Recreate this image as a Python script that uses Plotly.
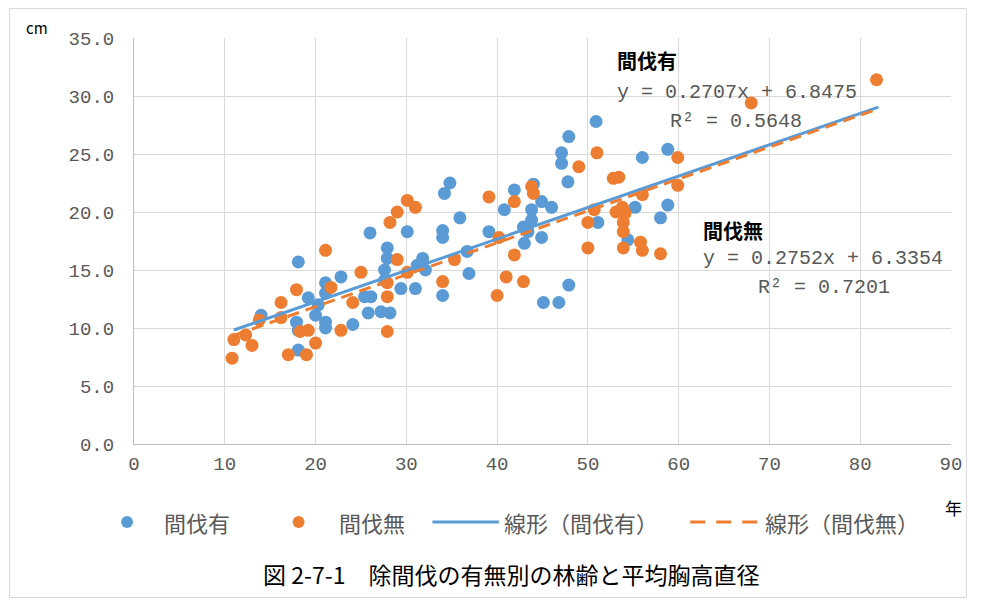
import plotly.graph_objects as go

# 間伐有 (thinned)
age_thinned = [18.1, 14.0, 17.9, 18.1, 18.1, 19.2, 20.3, 21.1, 21.1, 20.0, 21.1, 21.1, 22.8, 24.1,
               26.0, 26.1, 25.4, 25.8, 27.2, 28.2, 27.9, 27.9, 27.6, 27.6, 29.4, 31.0, 30.1, 31.8,
               31.2, 32.1, 34.0, 34.0, 34.0, 34.2, 34.8, 35.9, 36.7, 36.9, 39.1, 40.8, 41.9, 42.9,
               43.4, 43.0, 43.8, 43.8, 44.9, 46.0, 44.9, 45.1, 46.8, 47.1, 47.1, 47.8, 47.9, 47.9,
               50.9, 51.1, 56.0, 58.8, 55.2, 58.8, 58.0, 54.4, 44.0]
dbh_thinned = [15.7, 11.1, 10.5, 9.8, 8.1, 12.6, 12.0, 13.9, 13.0, 11.1, 10.5, 10.0, 14.4, 10.3,
               18.2, 12.7, 12.7, 11.3, 11.4, 11.3, 16.9, 16.0, 15.0, 14.1, 13.4, 13.4, 18.3, 16.0,
               15.4, 15.0, 18.4, 17.8, 12.8, 21.6, 22.5, 19.5, 16.6, 14.7, 18.3, 20.2, 21.9, 18.7,
               18.3, 17.3, 20.2, 19.3, 20.9, 20.4, 17.8, 12.2, 12.2, 25.1, 24.2, 22.6, 26.5, 13.7,
               27.8, 19.1, 24.7, 25.4, 20.4, 20.6, 19.5, 17.6, 22.4]

# 間伐無 (not thinned)
age_unthinned = [10.8, 11.0, 12.3, 13.0, 13.8, 16.2, 16.2, 17.9, 18.3, 19.2, 17.0, 19.0, 20.0, 21.1,
                 21.7, 22.8, 24.1, 25.0, 27.9, 27.9, 27.9, 29.0, 29.0, 28.2, 30.1, 31.0, 30.1, 34.0,
                 35.3, 39.1, 40.2, 41.9, 41.9, 41.0, 42.9, 40.0, 43.8, 44.0, 49.0, 51.0, 52.8, 53.4,
                 59.9, 59.9, 56.0, 53.8, 53.1, 54.1, 50.7, 50.0, 53.9, 53.9, 50.0, 53.9, 55.8, 56.0,
                 58.0, 68.0, 81.8]
dbh_unthinned = [7.4, 9.0, 9.4, 8.5, 10.7, 12.2, 10.9, 13.3, 9.7, 9.8, 7.7, 7.7, 8.7, 16.7,
                 13.5, 9.8, 12.2, 14.8, 13.9, 12.7, 9.7, 15.9, 20.0, 19.1, 21.0, 20.4, 14.8, 14.0,
                 15.9, 21.3, 17.8, 20.9, 16.3, 14.4, 14.0, 12.8, 22.2, 21.6, 23.9, 25.1, 22.9, 23.0,
                 24.7, 22.3, 21.5, 20.4, 20.0, 19.9, 20.2, 19.1, 19.1, 18.3, 16.9, 16.9, 17.4, 16.7,
                 16.4, 29.4, 31.4]

# Trend lines (linear fits shown in the chart)
trend_x = [11, 82]
slope_thinned, intercept_thinned = 0.2707, 6.8475
slope_unthinned, intercept_unthinned = 0.2752, 6.3354

x_ticks = [0, 10, 20, 30, 40, 50, 60, 70, 80, 90]
y_ticks = [0, 5, 10, 15, 20, 25, 30, 35]

series_names = ["間伐有", "間伐無", "線形（間伐有）", "線形（間伐無）"]

BLUE = "#5B9BD5"
ORANGE = "#ED7D31"
CJK = "Noto Sans CJK JP"
MONO = "Liberation Mono"
GRAY = "#595959"

fig = go.Figure()
fig.add_trace(go.Scatter(x=age_thinned, y=dbh_thinned, mode="markers", name=series_names[0],
                         marker=dict(color=BLUE, size=13)))
fig.add_trace(go.Scatter(x=age_unthinned, y=dbh_unthinned, mode="markers", name=series_names[1],
                         marker=dict(color=ORANGE, size=13)))
fig.add_trace(go.Scatter(x=trend_x, y=[slope_thinned * v + intercept_thinned for v in trend_x],
                         mode="lines", name=series_names[2], line=dict(color=BLUE, width=3)))
fig.add_trace(go.Scatter(x=trend_x, y=[slope_unthinned * v + intercept_unthinned for v in trend_x],
                         mode="lines", name=series_names[3],
                         line=dict(color=ORANGE, width=3, dash="12px,7px")))

# page is offset by the 8px body margin; plot area spans page x 134..958, y 38..444
W, H = 966, 591
PL, PR, PT, PB = 134, 958, 38, 444
PW, PH = PR - PL, PB - PT


def px(x):
    return (x - PL) / PW


def py(y):
    return (PB - y) / PH


fig.update_layout(
    width=W, height=H,
    margin=dict(l=PL - 8, r=W - (PR - 8), t=PT - 8, b=H - (PB - 8)),
    paper_bgcolor="white", plot_bgcolor="white",
    font=dict(family=CJK, color=GRAY, size=16),
    showlegend=False,
    xaxis=dict(range=[0, 90], tickvals=x_ticks, showgrid=True, gridcolor="#D9D9D9",
               showline=True, linecolor="#BFBFBF", zeroline=False, ticks="",
               tickfont=dict(family=MONO, size=19, color=GRAY), ticklabelstandoff=2),
    yaxis=dict(range=[0, 35], tickvals=y_ticks, tickformat=".1f", showgrid=True,
               gridcolor="#D9D9D9", showline=True, linecolor="#BFBFBF", zeroline=False,
               ticks="", tickfont=dict(family=MONO, size=19, color=GRAY), ticklabelstandoff=15),
)

LEG_Y = py(522)
ann = [
    dict(text="cm", x=px(23), y=py(27), xref="paper", yref="paper", showarrow=False,
         font=dict(family=CJK, size=15, color="black"), xanchor="left", yanchor="middle"),
    dict(text="年", x=px(950), y=py(507), xref="paper", yref="paper", showarrow=False,
         font=dict(family=CJK, size=17, color="black"), xanchor="left", yanchor="middle"),
    dict(text="<b>間伐有</b>", x=53.0, y=33.1, showarrow=False,
         font=dict(family=CJK, size=20, color="black"), xanchor="left", yanchor="middle"),
    dict(text="y = 0.2707x + 6.8475", x=53.0, y=30.3, showarrow=False,
         font=dict(family=MONO, size=20, color=GRAY), xanchor="left", yanchor="middle"),
    dict(text="R² = 0.5648", x=58.8, y=27.8, showarrow=False,
         font=dict(family=MONO, size=20, color=GRAY), xanchor="left", yanchor="middle"),
    dict(text="<b>間伐無</b>", x=62.5, y=18.4, showarrow=False,
         font=dict(family=CJK, size=20, color="black"), xanchor="left", yanchor="middle"),
    dict(text="y = 0.2752x + 6.3354", x=62.5, y=16.0, showarrow=False,
         font=dict(family=MONO, size=20, color=GRAY), xanchor="left", yanchor="middle"),
    dict(text="R² = 0.7201", x=68.5, y=13.5, showarrow=False,
         font=dict(family=MONO, size=20, color=GRAY), xanchor="left", yanchor="middle"),
    dict(text="図 2-7-1　除間伐の有無別の林齢と平均胸高直径", x=px(514), y=py(574),
         xref="paper", yref="paper", showarrow=False,
         font=dict(family=CJK, size=23, color="black"), xanchor="center", yanchor="middle"),
    # legend texts
    dict(text=series_names[0], x=px(162), y=LEG_Y, xref="paper", yref="paper", showarrow=False,
         font=dict(family=CJK, size=22, color=GRAY), xanchor="left", yanchor="middle"),
    dict(text=series_names[1], x=px(339), y=LEG_Y, xref="paper", yref="paper", showarrow=False,
         font=dict(family=CJK, size=22, color=GRAY), xanchor="left", yanchor="middle"),
    dict(text=series_names[2], x=px(505), y=LEG_Y, xref="paper", yref="paper", showarrow=False,
         font=dict(family=CJK, size=22, color=GRAY), xanchor="left", yanchor="middle"),
    dict(text=series_names[3], x=px(768), y=LEG_Y, xref="paper", yref="paper", showarrow=False,
         font=dict(family=CJK, size=22, color=GRAY), xanchor="left", yanchor="middle"),
]
fig.update_layout(annotations=ann)

shapes = [
    # outer chart border
    dict(type="rect", xref="paper", yref="paper", x0=px(8.5), x1=px(973.5), y0=py(597.5), y1=py(8.5),
         line=dict(color="#D9D9D9", width=1), fillcolor="rgba(0,0,0,0)", layer="below"),
    # legend symbols
    dict(type="circle", xref="paper", yref="paper", x0=px(121), x1=px(133), y0=py(528), y1=py(516),
         line=dict(color=BLUE, width=0), fillcolor=BLUE),
    dict(type="circle", xref="paper", yref="paper", x0=px(294), x1=px(306), y0=py(528), y1=py(516),
         line=dict(color=ORANGE, width=0), fillcolor=ORANGE),
    dict(type="line", xref="paper", yref="paper", x0=px(435), x1=px(502), y0=LEG_Y, y1=LEG_Y,
         line=dict(color=BLUE, width=3)),
    dict(type="line", xref="paper", yref="paper", x0=px(695), x1=px(763), y0=LEG_Y, y1=LEG_Y,
         line=dict(color=ORANGE, width=3, dash="15px,11px")),
]
fig.update_layout(shapes=shapes)

fig.write_html("out.html")
